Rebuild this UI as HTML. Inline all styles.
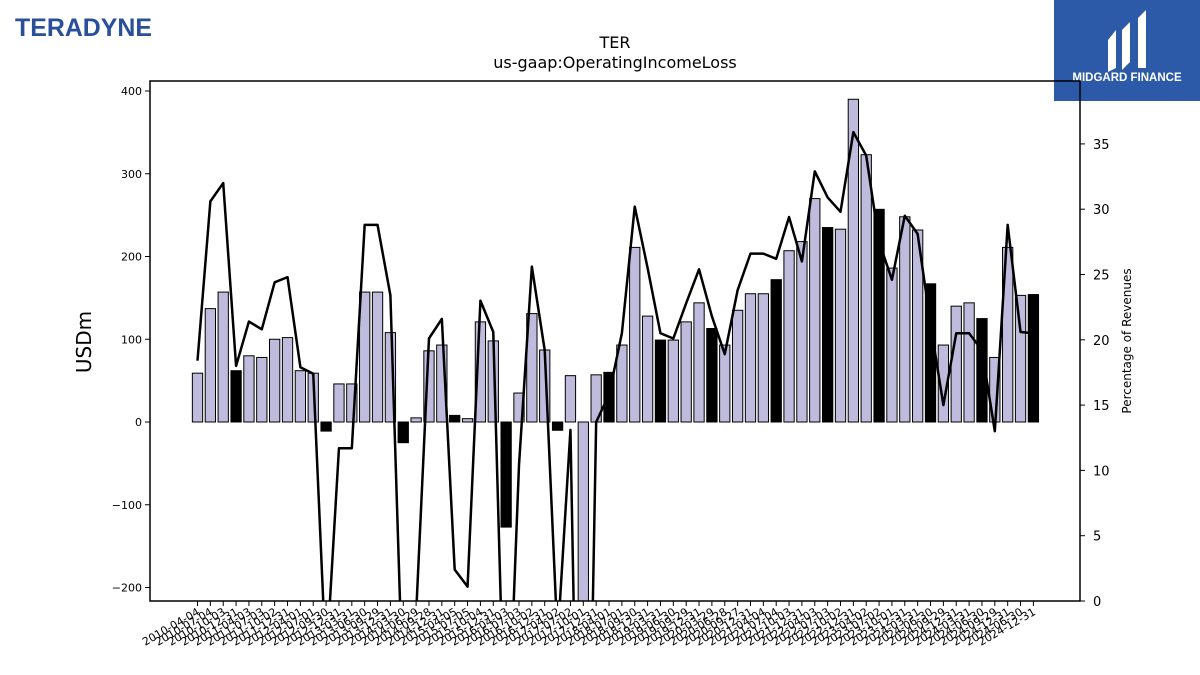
<!DOCTYPE html>
<html><head><meta charset="utf-8"><style>
html,body{margin:0;padding:0;width:1200px;height:675px;overflow:hidden;background:#fff;font-family:"Liberation Sans","DejaVu Sans",sans-serif;}
svg{display:block;}
svg text{font-family:"DejaVu Sans","Liberation Sans",sans-serif;}
</style></head><body>
<svg id="c" width="1200" height="675" xmlns="http://www.w3.org/2000/svg">
<rect width="1200" height="675" fill="#fff"/>
<text x="15" y="36" font-size="25" font-weight="bold" fill="#2a4f9a" textLength="137" lengthAdjust="spacingAndGlyphs" style="font-family:'Liberation Sans',sans-serif">TERADYNE</text>
<g>
<rect x="1054" y="0" width="146" height="101" fill="#2c5aa9"/>
<path d="M1108 40 L1116 30 L1116 68 L1108 72 Z M1122 30 L1130 22 L1130 62 L1122 70 Z M1138 18 L1146 10 L1146 68 L1138 68 Z" fill="#fff"/>
<text x="1127" y="81" font-size="11.5" font-weight="bold" fill="#fff" text-anchor="middle" style="font-family:'Liberation Sans',sans-serif">MIDGARD FINANCE</text>
</g>
<text x="615" y="48" font-size="16" text-anchor="middle">TER</text>
<text x="615" y="68" font-size="16" text-anchor="middle">us-gaap:OperatingIncomeLoss</text>
<text transform="translate(91,342) rotate(-90)" font-size="20" text-anchor="middle">USDm</text>
<text transform="translate(1131,341) rotate(-90)" font-size="12" text-anchor="middle">Percentage of Revenues</text>
<defs><clipPath id="pc"><rect x="150" y="81" width="930" height="520"/></clipPath></defs>
<g id="bars" clip-path="url(#pc)"></g>
<g id="line" clip-path="url(#pc)"></g>
<rect x="150" y="81" width="930" height="520" fill="none" stroke="#000" stroke-width="1.5"/>
<g id="axes"></g>
</svg>
<script>
const categories=["2010-04-04","2010-07-04","2010-10-03","2010-12-31","2011-04-03","2011-07-03","2011-10-02","2011-12-31","2012-04-01","2012-07-01","2012-09-30","2012-12-31","2013-03-31","2013-06-30","2013-09-29","2013-12-31","2014-03-30","2014-06-29","2014-09-28","2014-12-31","2015-04-05","2015-07-05","2015-10-04","2015-12-31","2016-04-03","2016-07-03","2016-10-02","2016-12-31","2017-04-02","2017-07-02","2017-10-01","2017-12-31","2018-04-01","2018-07-01","2018-09-30","2018-12-31","2019-03-31","2019-06-30","2019-09-29","2019-12-31","2020-03-29","2020-06-28","2020-09-27","2020-12-31","2021-04-04","2021-07-04","2021-10-03","2021-12-31","2022-04-03","2022-07-03","2022-10-02","2022-12-31","2023-04-02","2023-07-02","2023-10-01","2023-12-31","2024-03-31","2024-06-30","2024-09-29","2024-12-31","2024-03-31","2024-06-30","2024-09-29","2024-12-31","2024-06-30","2024-12-31"];
const income=[59,137,157,62,80,78,100,102,62,59,-11,46,46,157,157,108,-25,5,86,93,8,4,121,98,-127,35,131,87,-10,56,-300,57,60,93,211,128,99,99,121,144,113,93,135,155,155,172,207,218,270,235,233,390,323,257,186,248,232,167,93,140,144,125,78,211,153,154];
const annual=[0,0,0,1,0,0,0,0,0,0,1,0,0,0,0,0,1,0,0,0,1,0,0,0,1,0,0,0,1,0,0,0,1,0,0,0,1,0,0,0,1,0,0,0,0,1,0,0,0,1,0,0,0,1,0,0,0,1,0,0,0,1,0,0,0,1];
const margin=[18.4,30.6,32.0,18.0,21.4,20.8,24.4,24.8,17.9,17.4,-5,11.7,11.7,28.8,28.8,23.4,-8,-1,20.1,21.6,2.4,1.1,23.0,20.6,-15,10.4,25.6,19.2,-3,13.1,-40,13.7,15.8,20.5,30.2,25.5,20.5,20.1,22.8,25.4,21.8,18.9,23.8,26.6,26.6,26.2,29.4,26.0,32.9,30.9,29.8,35.9,34.1,27.5,24.6,29.5,28.1,21.2,15.0,20.5,20.5,19.2,13.0,28.8,20.6,20.5];
const leftTicks=[400,300,200,100,0,-100,-200];
const rightTicks=[0,5,10,15,20,25,30,35];
const NS="http://www.w3.org/2000/svg";
const X=i=>197.5+i*12.86;
const Y=v=>422-v*0.8275;
const Y2=p=>601-p*13.06;
function mk(t,a,p){const e=document.createElementNS(NS,t);for(const k in a)e.setAttribute(k,a[k]);p.appendChild(e);return e;}
const gb=document.getElementById('bars'),gl=document.getElementById('line'),ga=document.getElementById('axes');
income.forEach((v,i)=>{
 const y0=Y(Math.max(v,0)),h=Math.abs(Y(v)-Y(0));
 const r=mk('rect',{x:X(i)-5.15,y:y0,width:10.3,height:h,fill:annual[i]?'#000':'#bfbbdc',stroke:'#000','stroke-width':1},gb);
 
 
});
const pl=mk('polyline',{points:margin.map((p,i)=>X(i)+','+Y2(p)).join(' '),fill:'none',stroke:'#000','stroke-width':2.5,'stroke-linejoin':'round'},gl);


leftTicks.forEach(v=>{
 mk('line',{x1:145,x2:150,y1:Y(v),y2:Y(v),stroke:'#000'},ga);
 const t=mk('text',{x:142,y:Y(v)+4,'font-size':11,'text-anchor':'end'},ga);t.textContent=v<0?'\u2212'+(-v):v;
 
 
});
rightTicks.forEach(v=>{
 mk('line',{x1:1080,x2:1085,y1:Y2(v),y2:Y2(v),stroke:'#000'},ga);
 const t=mk('text',{x:1093,y:Y2(v)+5,'font-size':13},ga);t.textContent=v;
 
 
});
categories.forEach((c,i)=>{
 mk('line',{x1:X(i),x2:X(i),y1:601,y2:606,stroke:'#000'},ga);
 const t=mk('text',{transform:`translate(${X(i)+3},${614}) rotate(-30)`,'font-size':11,'text-anchor':'end'},ga);t.textContent=c;
 
 
});
</script>
</body></html>
